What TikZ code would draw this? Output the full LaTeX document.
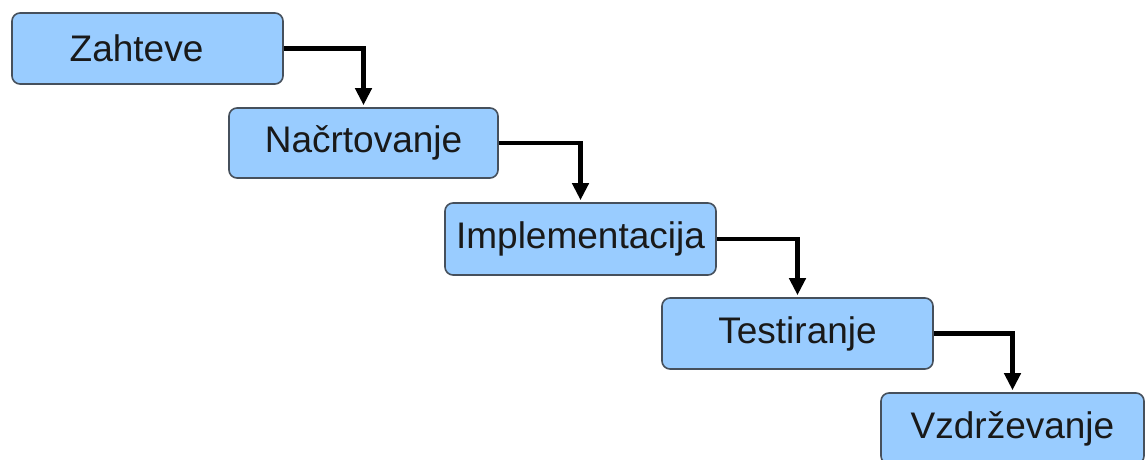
\documentclass[tikz,border=0pt]{standalone}
\usepackage{fontspec}
\setmainfont{Liberation Sans}
\usetikzlibrary{arrows.meta}
\definecolor{boxfill}{RGB}{153,204,255}
\definecolor{boxline}{RGB}{70,80,92}
\tikzset{
  stage/.style={draw=boxline, line width=1.6pt, fill=boxfill, rounded corners=8pt,
    minimum height=71pt, inner sep=0pt, font=\fontsize{37}{44}\selectfont, text=black!90},
  flow/.style={line width=4.5pt, shorten >=2pt, -{Triangle[width=16pt,length=17pt]}}
}
\begin{document}
\begin{tikzpicture}[x=1pt,y=-1pt]
\useasboundingbox (0,0) rectangle (1145,460);
\clip (0,0) rectangle (1145,460);
\node[stage, minimum width=271pt] (z) at (147.5,48.5) {\hspace*{-22pt}Zahteve};
\node[stage, minimum width=269pt, minimum height=70pt] (n) at (363.5,143) {Načrtovanje};
\node[stage, minimum width=271pt, minimum height=72pt] (i) at (580.5,239) {Implementacija};
\node[stage, minimum width=271pt] (t) at (797.5,333.5) {Testiranje};
\node[stage, minimum width=263pt] (v) at (1012.5,428.5) {Vzdrževanje};
\draw[flow] (z.east) -| (n.north);
\draw[flow] (n.east) -| (i.north);
\draw[flow] (i.east) -| (t.north);
\draw[flow] (t.east) -| (v.north);
\end{tikzpicture}
\end{document}
